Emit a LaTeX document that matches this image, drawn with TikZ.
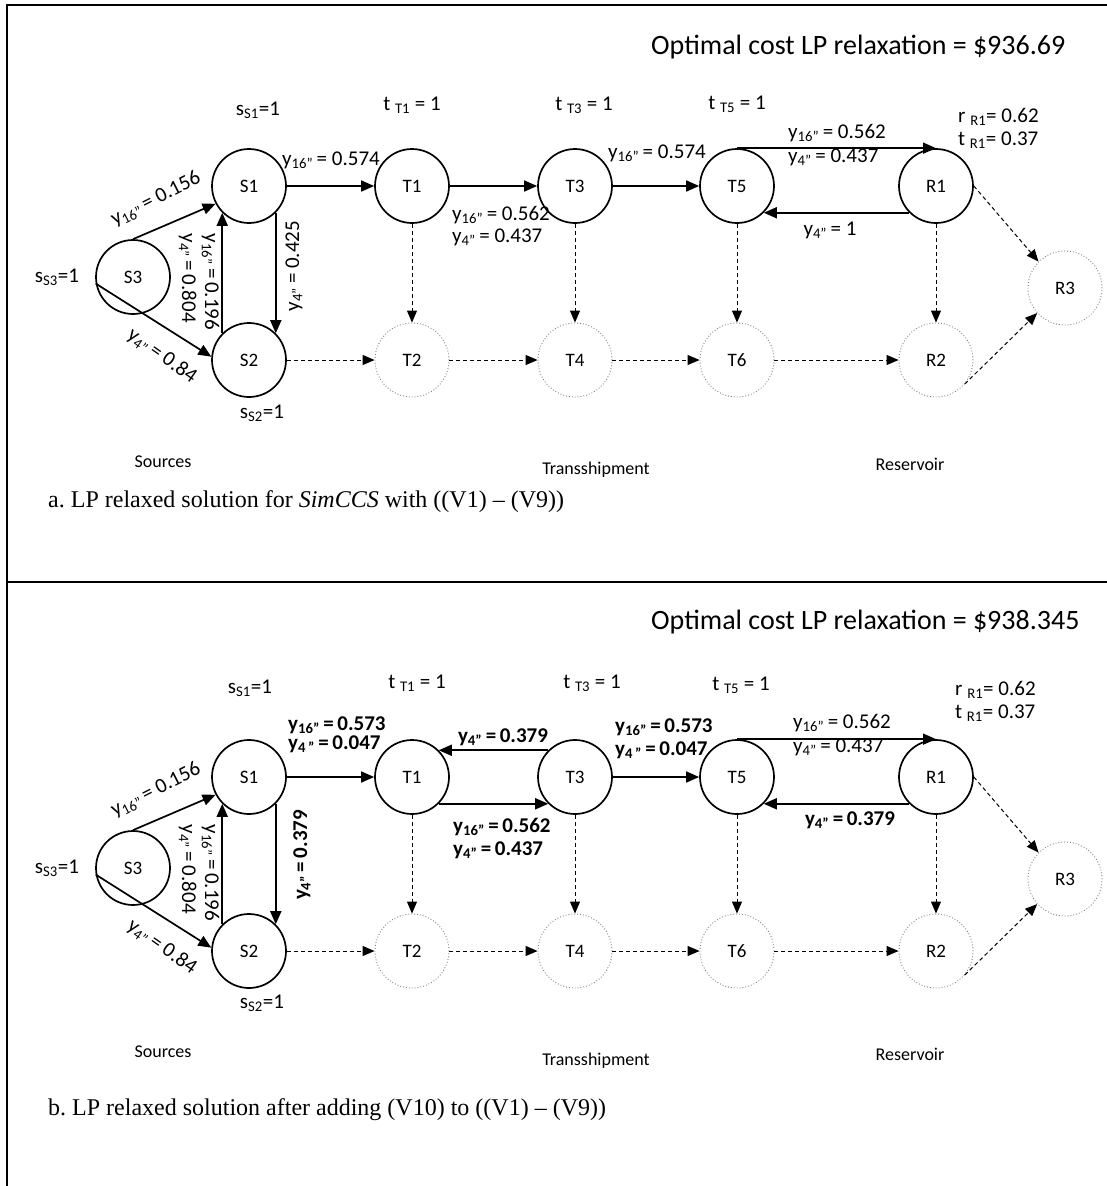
\documentclass[tikz,border=0pt]{standalone}
\usepackage{fontspec}
\setmainfont{Liberation Serif}
\newfontfamily\lbl{Carlito}[Ligatures=TeX]
\usetikzlibrary{arrows.meta}
\tikzset{
  snode/.style={circle,draw,line width=1.7pt,minimum size=74pt,inner sep=0pt,font=\lbl\fontsize{19}{22}\selectfont},
  dnode/.style={circle,draw=gray,dotted,line width=0.9pt,minimum size=74pt,inner sep=0pt,font=\lbl\fontsize{19}{22}\selectfont},
  flow/.style={line width=1.7pt,-{Triangle[length=13pt,width=11pt]}},
  dflow/.style={line width=1pt,dash pattern=on 4pt off 3pt,-{Triangle[length=12pt,width=10pt]}},
  lab/.style={font=\lbl\fontsize{21}{23}\selectfont,inner sep=0pt},
  blab/.style={font=\lbl\bfseries\fontsize{21}{23}\selectfont,inner sep=0pt},
  title/.style={font=\lbl\fontsize{28}{30}\selectfont,inner sep=0pt,anchor=west},
  group/.style={font=\lbl\fontsize{18}{20}\selectfont,inner sep=0pt},
  caption/.style={font=\fontsize{24}{28}\selectfont,inner sep=0pt,anchor=west},
  frame/.style={line width=2.6pt}
}
\begin{document}
\begin{tikzpicture}[x=1pt,y=-1pt]
\useasboundingbox (0,0) rectangle (1107,1186);
% frame
\coordinate (fTL) at (7,5);
\coordinate (fTR) at (1107,5);
\coordinate (fML) at (7,582);
\coordinate (fMR) at (1107,582);
\coordinate (fBL) at (7,1186);
\draw[frame] (fTR) -- (fTL) -- (fBL);
\draw[frame] (fML) -- (fMR);

% ================= panel a =================
\begin{scope}
\node[snode] (aS3) at (133,277) {S3};
\node[snode] (aS1) at (249,186) {S1};
\node[snode] (aS2) at (249,360) {S2};
\node[snode] (aT1) at (412,186) {T1};
\node[snode] (aT3) at (575,186) {T3};
\node[snode] (aT5) at (737,186) {T5};
\node[snode] (aR1) at (936,186) {R1};
\node[dnode] (aT2) at (412,360) {T2};
\node[dnode] (aT4) at (575,360) {T4};
\node[dnode] (aT6) at (737,360) {T6};
\node[dnode] (aR2) at (936,360) {R2};
\node[dnode] (aR3) at (1065,288) {R3};

\draw[flow] (aS3.north) -- (aS1.208);
\draw[flow] (aS3.190) -- (aS2.175);
\draw[flow] (aS2.north west) -- (aS1.south west);
\draw[flow] (aS1.south east) -- (aS2.north east);
\draw[flow] (aS1.east) -- (aT1.west);
\draw[flow] (aT1.east) -- (aT3.west);
\draw[flow] (aT3.east) -- (aT5.west);
\draw[flow] (aT5.north) -- (aR1.north);
\draw[flow] (aR1.south west) -- (aT5.south east);

\draw[dflow] (aS2.east) -- (aT2.west);
\draw[dflow] (aT2.east) -- (aT4.west);
\draw[dflow] (aT4.east) -- (aT6.west);
\draw[dflow] (aT6.east) -- (aR2.west);
\draw[dflow] (aT1.south) -- (aT2.north);
\draw[dflow] (aT3.south) -- (aT4.north);
\draw[dflow] (aT5.south) -- (aT6.north);
\draw[dflow] (aR1.south) -- (aR2.north);
\draw[dflow] (aR1.east) -- (aR3.north west);
\draw[dflow] (aR2.-40) -- (aR3.222);

\node[title] (aopt) at (651,47) {Optimal cost LP relaxation = \$936.69};
\node[lab] (ass1) at (258,110) {s\textsubscript{S1}=1};
\node[lab] (ass3) at (57,277) {s\textsubscript{S3}=1};
\node[lab] (ass2) at (262,413) {s\textsubscript{S2}=1};
\node[lab] (att1) at (412,105) {t \textsubscript{T1} = 1};
\node[lab] (att3) at (584,105) {t \textsubscript{T3} = 1};
\node[lab] (att5) at (737,104) {t \textsubscript{T5} = 1};
\node[lab,anchor=west] (arr1) at (958,117) {r \textsubscript{R1}= 0.62};
\node[lab,anchor=west] (atr1) at (958,140) {t \textsubscript{R1}= 0.37};

\node[lab] (al1) at (331,160) {y\textsubscript{16''}\,= 0.574};
\node[lab,anchor=west] (al2) at (452,215) {y\textsubscript{16''}\,= 0.562};
\node[lab,anchor=west] (al3) at (452,237) {y\textsubscript{4''}\,= 0.437};
\node[lab] (al4) at (657,153) {y\textsubscript{16''}\,= 0.574};
\node[lab,anchor=west] (al5) at (788,133) {y\textsubscript{16''}\,= 0.562};
\node[lab,anchor=west] (al6) at (788,157) {y\textsubscript{4''}\,= 0.437};
\node[lab] (al7) at (830,230) {y\textsubscript{4''}\,= 1};
\node[lab,rotate=27] (al8) at (156,199) {y\textsubscript{16''}\,= 0.156};
\node[lab,rotate=-35] (al9) at (162,356) {y\textsubscript{4''}\,= 0.84};
\node[lab,rotate=-90,align=left] (al10) at (199,282) {y\textsubscript{16''}\,=\,0.196\\y\textsubscript{4''}\,=\,0.804};
\node[lab,rotate=90] (al11) at (294,266) {y\textsubscript{4''}\,= 0.425};

\node[group] (asrc) at (163,462) {Sources};
\node[group] (atrn) at (596,470) {Transshipment};
\node[group] (ares) at (910,464) {Reservoir};
\node[caption] (acap) at (48,502) {a.\ LP relaxed solution for \textit{SimCCS} with ((V1) -- (V9))};
\end{scope}

% ================= panel b =================
\begin{scope}[shift={(0,591)}]
\node[snode] (bS3) at (133,277) {S3};
\node[snode] (bS1) at (249,186) {S1};
\node[snode] (bS2) at (249,360) {S2};
\node[snode] (bT1) at (412,186) {T1};
\node[snode] (bT3) at (575,186) {T3};
\node[snode] (bT5) at (737,186) {T5};
\node[snode] (bR1) at (936,186) {R1};
\node[dnode] (bT2) at (412,360) {T2};
\node[dnode] (bT4) at (575,360) {T4};
\node[dnode] (bT6) at (737,360) {T6};
\node[dnode] (bR2) at (936,360) {R2};
\node[dnode] (bR3) at (1065,288) {R3};

\draw[flow] (bS3.north) -- (bS1.208);
\draw[flow] (bS3.190) -- (bS2.175);
\draw[flow] (bS2.north west) -- (bS1.south west);
\draw[flow] (bS1.south east) -- (bS2.north east);
\draw[flow] (bS1.east) -- (bT1.west);
\draw[flow] (bT3.north west) -- (bT1.north east);
\draw[flow] (bT1.south east) -- (bT3.south west);
\draw[flow] (bT3.east) -- (bT5.west);
\draw[flow] (bT5.north) -- (bR1.north);
\draw[flow] (bR1.south west) -- (bT5.south east);

\draw[dflow] (bS2.east) -- (bT2.west);
\draw[dflow] (bT2.east) -- (bT4.west);
\draw[dflow] (bT4.east) -- (bT6.west);
\draw[dflow] (bT6.east) -- (bR2.west);
\draw[dflow] (bT1.south) -- (bT2.north);
\draw[dflow] (bT3.south) -- (bT4.north);
\draw[dflow] (bT5.south) -- (bT6.north);
\draw[dflow] (bR1.south) -- (bR2.north);
\draw[dflow] (bR1.east) -- (bR3.north west);
\draw[dflow] (bR2.-40) -- (bR3.222);

\node[title] (bopt) at (651,31) {Optimal cost LP relaxation = \$938.345};
\node[lab] (bss1) at (250,97) {s\textsubscript{S1}=1};
\node[lab] (bss3) at (57,277) {s\textsubscript{S3}=1};
\node[lab] (bss2) at (262,412) {s\textsubscript{S2}=1};
\node[lab] (btt1) at (417,92) {t \textsubscript{T1} = 1};
\node[lab] (btt3) at (592,92) {t \textsubscript{T3} = 1};
\node[lab] (btt5) at (741,94) {t \textsubscript{T5} = 1};
\node[lab,anchor=west] (brr1) at (955,99) {r \textsubscript{R1}= 0.62};
\node[lab,anchor=west] (btr1) at (955,122) {t \textsubscript{R1}= 0.37};

\node[blab,anchor=west] (bl1) at (288,134) {y\textsubscript{16''}\,=\,0.573};
\node[blab,anchor=west] (bl1b) at (288,153) {y\textsubscript{4\,''}\,=\,0.047};
\node[blab] (bl2) at (503,146) {y\textsubscript{4''}\,=\,0.379};
\node[blab,anchor=west] (bl3) at (453,236) {y\textsubscript{16''}\,=\,0.562};
\node[blab,anchor=west] (bl3b) at (453,259) {y\textsubscript{4''}\,=\,0.437};
\node[blab,anchor=west] (bl4) at (615,136) {y\textsubscript{16''}\,=\,0.573};
\node[blab,anchor=west] (bl4b) at (615,159) {y\textsubscript{4\,''}\,=\,0.047};
\node[lab,anchor=west] (bl5) at (793,132) {y\textsubscript{16''}\,= 0.562};
\node[lab,anchor=west] (bl6) at (793,156) {y\textsubscript{4''}\,= 0.437};
\node[blab] (bl7) at (850,229) {y\textsubscript{4''}\,=\,0.379};
\node[lab,rotate=27] (bl8) at (156,199) {y\textsubscript{16''}\,= 0.156};
\node[lab,rotate=-35] (bl9) at (162,356) {y\textsubscript{4''}\,= 0.84};
\node[lab,rotate=-90,align=left] (bl10) at (199,282) {y\textsubscript{16''}\,=\,0.196\\y\textsubscript{4''}\,=\,0.804};
\node[blab,rotate=90] (bl11) at (302,264) {y\textsubscript{4''}\,=\,0.379};

\node[group] (bsrc) at (163,461) {Sources};
\node[group] (btrn) at (596,470) {Transshipment};
\node[group] (bres) at (910,463) {Reservoir};
\node[caption] (bcap) at (48,519) {b.\ LP relaxed solution after adding (V10) to ((V1) -- (V9))};
\end{scope}
\end{tikzpicture}
\end{document}
